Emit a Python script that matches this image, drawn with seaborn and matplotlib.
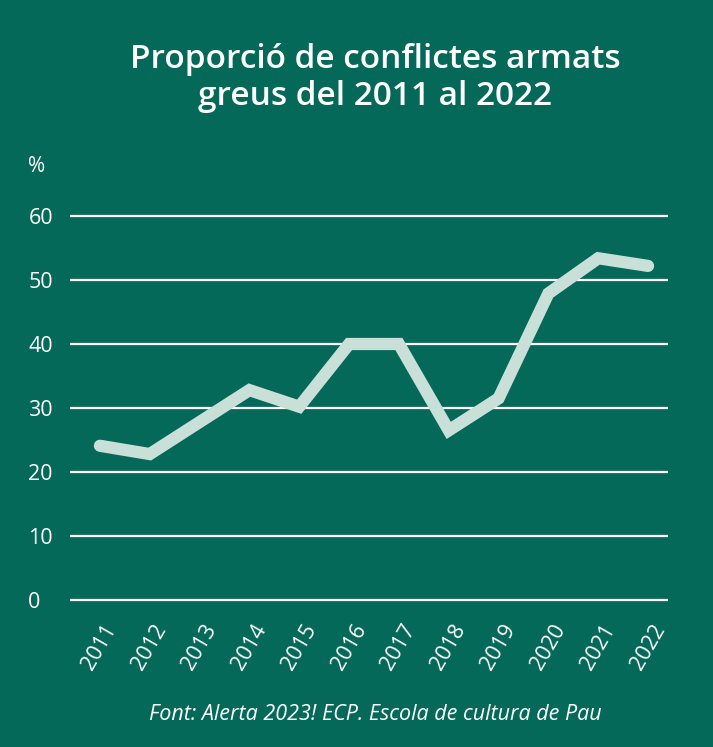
import matplotlib
matplotlib.use("Agg")
import matplotlib.pyplot as plt
import seaborn as sns
import pandas as pd

years = ["2011", "2012", "2013", "2014", "2015", "2016", "2017", "2018", "2019", "2020", "2021", "2022"]
percent = [24.1, 22.8, 27.8, 32.8, 30.2, 40.0, 40.0, 26.5, 31.5, 47.9, 53.4, 52.2]
y_ticks = [0, 10, 20, 30, 40, 50, 60]

title = "Proporció de conflictes armats\ngreus del 2011 al 2022"
source = "Font: Alerta 2023! ECP. Escola de cultura de Pau"

BG = "#05695A"
LINE = "#C8E0D8"

sns.set_theme(style="white")
plt.rcParams["font.family"] = ["Open Sans", "DejaVu Sans"]

df = pd.DataFrame({"year": years, "pct": percent})

fig = plt.figure(figsize=(7.13, 7.47), dpi=100, facecolor=BG)
ax = fig.add_axes([70 / 713, (747 - 606.4) / 747, 598 / 713, (606.4 - 209.6) / 747])
ax.set_facecolor(BG)

for t in y_ticks:
    ax.axhline(t, color="white", lw=1.6, zorder=1)

sns.lineplot(data=df, x="year", y="pct", ax=ax, color=LINE, lw=8.8, sort=False,
             solid_capstyle="round", solid_joinstyle="miter", zorder=3, clip_on=False)

ax.set_xlim(-0.6, 11.4)
ax.set_ylim(-1, 61)
ax.set_yticks(y_ticks)
ax.set_yticklabels([str(t) for t in y_ticks], ha="left")
ax.set_xticks(range(len(years)))
ax.set_xticklabels(years, rotation=60, ha="center", va="top")
ax.tick_params(axis="y", length=0, pad=30, labelsize=15.5, colors="white")
ax.tick_params(axis="x", length=0, pad=10, labelsize=15.5, colors="white")
ax.set_xlabel("")
ax.set_ylabel("")
for s in ax.spines.values():
    s.set_visible(False)
ax.grid(False)

fig.text(375 / 713, 1 - 78 / 747, title, ha="center", va="center", color="white",
         fontsize=24, fontweight="semibold", linespacing=1.15)
fig.text(28 / 713, 1 - 167 / 747, "%", ha="left", va="center", color="white", fontsize=15)
fig.text(375 / 713, 1 - 715 / 747, source, ha="center", va="center", color="white",
         fontsize=15.5, style="italic")

fig.savefig("out.png", dpi=100, facecolor=BG)
